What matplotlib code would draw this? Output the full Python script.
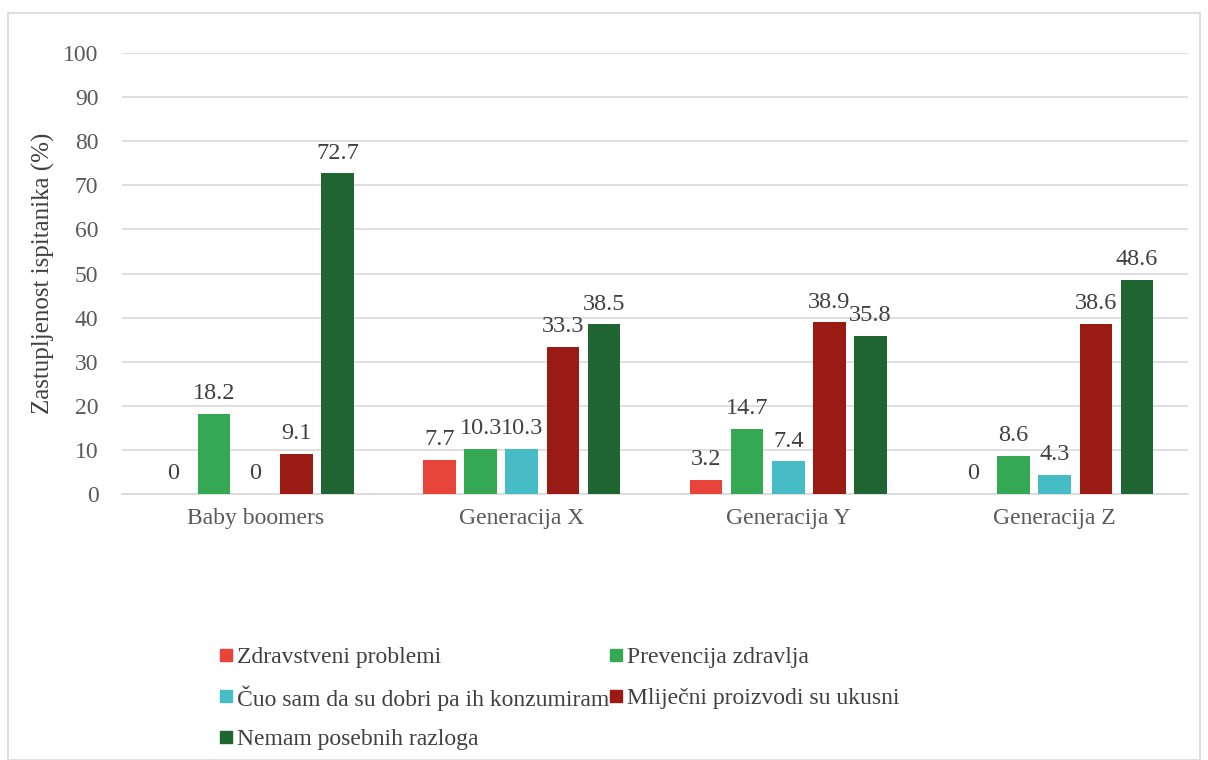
import matplotlib.pyplot as plt
import numpy as np
from matplotlib.patches import Rectangle

plt.rcParams['font.family'] = ['Liberation Serif', 'DejaVu Serif']

categories = ['Baby boomers', 'Generacija X', 'Generacija Y', 'Generacija Z']
series = ['Zdravstveni problemi', 'Prevencija zdravlja',
          'Čuo sam da su dobri pa ih konzumiram', 'Mliječni proizvodi su ukusni',
          'Nemam posebnih razloga']
zdravstveni = [0, 7.7, 3.2, 0]
prevencija = [18.2, 10.3, 14.7, 8.6]
cuo_sam = [0, 10.3, 7.4, 4.3]
ukusni = [9.1, 33.3, 38.9, 38.6]
nemam = [72.7, 38.5, 35.8, 48.6]
values = [zdravstveni, prevencija, cuo_sam, ukusni, nemam]
colors = ['#E8443A', '#34A853', '#46BDC6', '#9A1A14', '#1E6532']

W, H = 1208, 760
fig = plt.figure(figsize=(W / 100, H / 100), dpi=100)
ax = fig.add_axes([122 / W, 1 - 494 / H, (1188 - 122) / W, (494 - 53) / H])

# outer chart border
fig.patches.append(Rectangle((8 / W, 0.0), 1192 / W, 1 - 13 / H,
                             transform=fig.transFigure, fill=False,
                             edgecolor='#D9D9D9', linewidth=1.2))

x = np.arange(len(categories))
pitch = 0.154
width = 0.122
for i, (name, vals, col) in enumerate(zip(series, values, colors)):
    pos = x + (i - 2) * pitch
    ax.bar(pos, vals, width, color=col, label=name, zorder=3)
    for p, v in zip(pos, vals):
        ax.text(p, v + 2.2, f'{v:g}', ha='center', va='bottom',
                fontsize=17.5, color='#404040')

ax.set_xlim(-0.5, len(categories) - 0.5)
ax.set_ylim(0, 100)
ax.set_yticks(range(0, 101, 10))
ax.yaxis.grid(True, color='#D9D9D9', linewidth=1.2, zorder=0)
ax.set_axisbelow(True)
ax.set_xticks(x)
ax.set_xticklabels(categories)
ax.tick_params(axis='both', length=0, labelsize=17, labelcolor='#595959')
ax.tick_params(axis='x', pad=10)
ax.tick_params(axis='y', pad=17)
for s in ['top', 'right', 'left']:
    ax.spines[s].set_visible(False)
ax.spines['bottom'].set_color('#D9D9D9')
ax.spines['bottom'].set_linewidth(1.2)
ax.set_ylabel('Zastupljenost ispitanika (%)', fontsize=18, color='#404040', labelpad=6)

# legend, two columns filled row by row (drawn by hand so rows line up)
col_x = [220, 610]
row_y = [655, 696, 737]
for k, (name, col) in enumerate(zip(series, colors)):
    lx = col_x[k % 2]
    ly = row_y[k // 2]
    fig.patches.append(Rectangle((lx / W, 1 - (ly + 6) / H), 12 / W, 12 / H,
                                 transform=fig.transFigure, color=col))
    fig.text((lx + 17) / W, 1 - ly / H, name, fontsize=17, color='#404040',
             ha='left', va='center_baseline')

fig.savefig('out.png', dpi=100)
